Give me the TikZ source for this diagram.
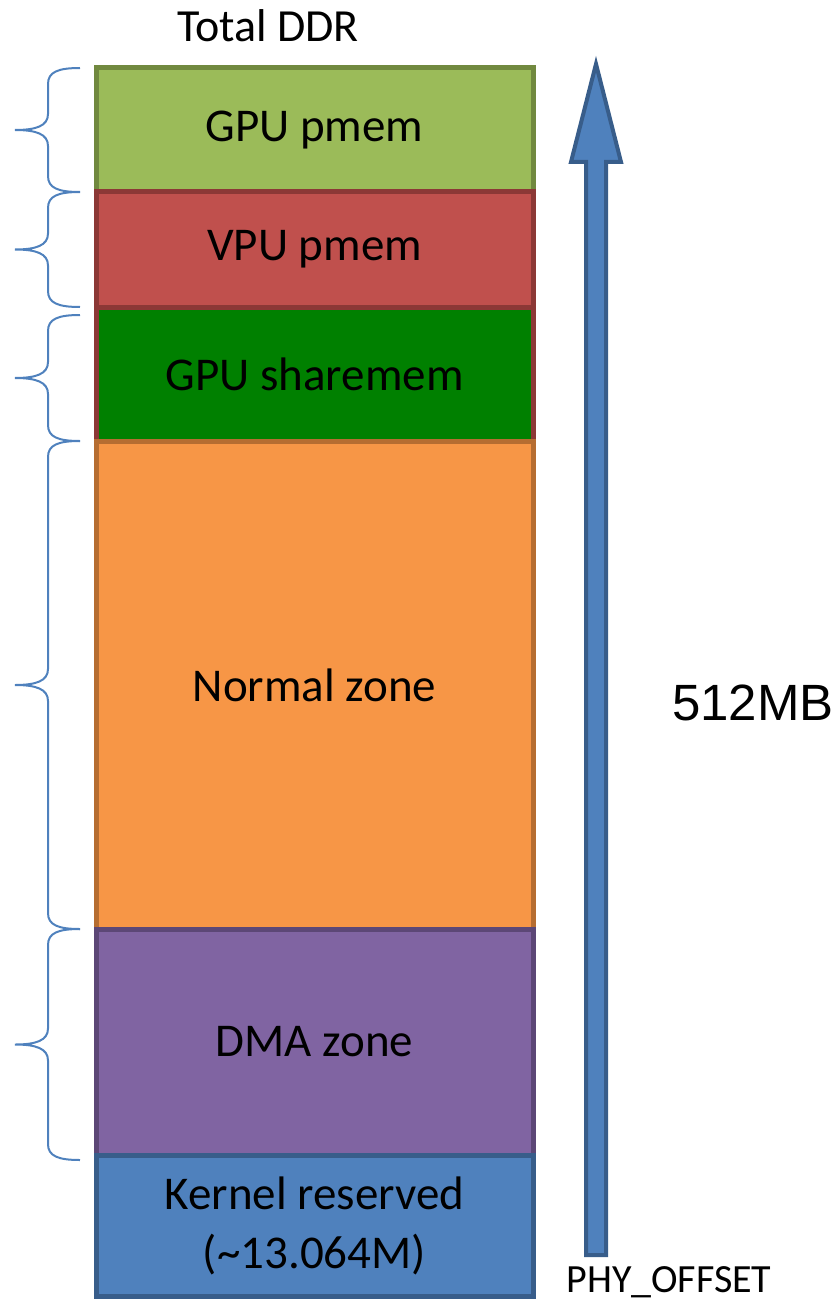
\documentclass[tikz,border=0pt]{standalone}
\usepackage{fontspec}
\setmainfont{Carlito}
\newfontfamily\arialfont{Liberation Sans}
\usetikzlibrary{positioning, calc}

\definecolor{gpufill}{HTML}{9BBB59}
\definecolor{gpuline}{HTML}{71893F}
\definecolor{vpufill}{HTML}{C0504D}
\definecolor{vpuline}{HTML}{8C3836}
\definecolor{sharefill}{HTML}{008000}
\definecolor{normfill}{HTML}{F79646}
\definecolor{normline}{HTML}{B66D31}
\definecolor{dmafill}{HTML}{8064A2}
\definecolor{dmaline}{HTML}{5C4776}
\definecolor{kernfill}{HTML}{4F81BD}
\definecolor{kernline}{HTML}{385D8A}

\tikzset{
  zone/.style={draw, line width=5pt, outer sep=0pt, inner sep=0pt,
    minimum width=437pt, align=center, font=\fontsize{47}{59}\selectfont},
  lbrace/.style={draw=kernfill, line width=2pt, to path={
    let \p1=(\tikztostart), \p2=(\tikztotarget), \p3=($(\p1)!.5!(\p2)$) in
    (\p1) .. controls (\x1-22pt,\y1) and (\x1-32pt,\y1-4pt) .. (\x1-32pt,\y1-16pt)
    -- (\x1-32pt,\y3+16pt) .. controls (\x1-32pt,\y3+4pt) and (\x1-44pt,\y3) .. (\x1-65pt,\y3)
    .. controls (\x1-44pt,\y3) and (\x1-32pt,\y3-4pt) .. (\x1-32pt,\y3-16pt)
    -- (\x1-32pt,\y2+16pt) .. controls (\x1-32pt,\y2+4pt) and (\x1-22pt,\y2) .. (\p2)}},
  bigarrow/.style={fill=kernfill, draw=kernline, line width=4pt}
}

\begin{document}
\begin{tikzpicture}[x=1pt, y=-1pt]
\useasboundingbox (0,0) rectangle (839,1300);

% memory zones, top to bottom
\node[zone, fill=gpufill, draw=gpuline, minimum height=124pt] (gpu) at (314.5,130) {GPU pmem};
\node[zone, fill=vpufill, draw=vpuline, minimum height=115pt, below=0pt of gpu] (vpu) {VPU pmem};
\node[zone, fill=sharefill, draw=vpuline, minimum height=134pt, below=0pt of vpu] (share) {GPU sharemem};
\node[zone, fill=normfill, draw=normline, minimum height=488pt, below=0pt of share] (normal) {Normal zone};
\node[zone, fill=dmafill, draw=dmaline, minimum height=226pt, below=0pt of normal] (dma) {DMA zone};
\node[zone, fill=kernfill, draw=kernline, minimum height=141pt, below=0pt of dma] (kernel) {Kernel reserved\\(\textasciitilde13.064M)};

\node[anchor=base, font=\fontsize{46}{55}\selectfont] (total) at (268,42) {Total DDR};

% braces
\draw[lbrace] ([xshift=-16pt]gpu.north west) to ([xshift=-16pt]gpu.south west);
\draw[lbrace] ([xshift=-16pt]vpu.north west) to ([xshift=-16pt]vpu.south west);
\draw[lbrace] ([xshift=-16pt,yshift=-8pt]share.north west) to ([xshift=-16pt]share.south west);
\draw[lbrace] ([xshift=-16pt]normal.north west) to ([xshift=-16pt]normal.south west);
\draw[lbrace] ([xshift=-16pt]dma.north west) to ([xshift=-16pt,yshift=-5pt]dma.south west);

% address arrow
\coordinate (foot) at (596,1255);
\coordinate (tip) at (596,64);
\draw[bigarrow] (586,1255) -- (586,162) -- (571,162) -- (tip) -- (621,162) -- (606,162) -- (606,1255) -- cycle;
\node[anchor=base, font=\arialfont\fontsize{51}{60}\selectfont] (size) at (753,720) {512MB};
\node[anchor=base, font=\fontsize{40}{48}\selectfont] (offset) at (669,1292) {PHY\_OFFSET};
\end{tikzpicture}
\end{document}
